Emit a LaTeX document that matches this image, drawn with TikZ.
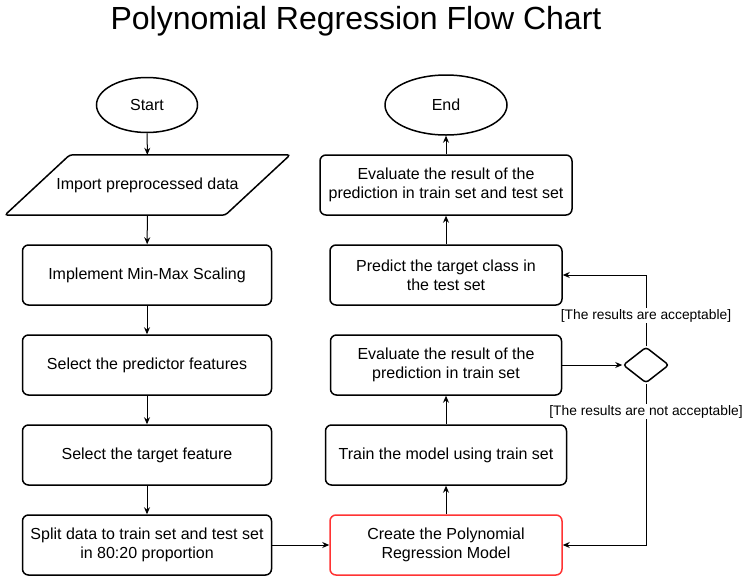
\documentclass[tikz,border=0pt]{standalone}
\usepackage{fontspec}
\setmainfont{Liberation Sans}
\usetikzlibrary{shapes.geometric,arrows.meta}
\definecolor{boxred}{HTML}{FF3333}

\begin{document}
\begin{tikzpicture}[x=1pt,y=-1pt,
    every node/.style={font=\fontsize{16}{19}\selectfont,align=center},
    block/.style={draw,line width=1.5pt,rounded corners=6pt,minimum height=60pt,inner sep=0pt},
    terminal/.style={draw,line width=1.5pt,ellipse,inner sep=0pt},
    flow/.style={line width=1pt,-{Stealth[length=7pt,width=6pt]}},
    guard/.style={fill=white,inner sep=1pt,font=\fontsize{13.8}{15}\selectfont}]
    \useasboundingbox (0,0) rectangle (744,576);
    \node (title) at (356,21) {\fontsize{32}{38}\selectfont Polynomial Regression Flow Chart};
    % left column
    \node[terminal,minimum width=101pt,minimum height=55pt] (start) at (147,105) {Start};
    \node[minimum width=220pt,minimum height=60pt,inner sep=0pt] (import) at (147.5,185) {Import preprocessed data};
    \draw[line width=1.5pt,rounded corners=3pt] ([xshift=-32.5pt]import.south west) -- ([xshift=32.5pt]import.north west)
        -- ([xshift=32.5pt]import.north east) -- ([xshift=-32.5pt]import.south east) -- cycle;
    \foreach \myy/\myname/\mytext in {275/scaling/Implement Min-Max Scaling,
        365/predictors/Select the predictor features,
        455/target/Select the target feature,
        545/split/Split data to train set and test set\\in 80:20 proportion}{
        \node[block,minimum width=249pt] (\myname) at (147,\myy) {\mytext};
    }
    % right column
    \node[block,draw=boxred,minimum width=232pt] (create) at (446,545) {Create the Polynomial\\Regression Model};
    \node[block,minimum width=241pt] (train) at (446,455) {Train the model using train set};
    \node[block,minimum width=231pt] (evaltrain) at (446,365) {Evaluate the result of the\\prediction in train set};
    \node[block,minimum width=232pt] (predict) at (446,275) {Predict the target class in\\the test set};
    \node[block,minimum width=252pt] (evalboth) at (446,185) {Evaluate the result of the\\prediction in train set and test set};
    \node[terminal,minimum width=122pt,minimum height=60pt] (end) at (446,105) {End};
    \node[draw,line width=1.5pt,diamond,minimum width=46pt,minimum height=36pt,inner sep=0pt,
        rounded corners=3pt,aspect=1.3] (check) at (646,365) {};
    % connectors
    \draw[flow] (start) -- (import);
    \draw[flow] (import) -- (scaling);
    \draw[flow] (scaling) -- (predictors);
    \draw[flow] (predictors) -- (target);
    \draw[flow] (target) -- (split);
    \draw[flow] (split) -- (create);
    \draw[flow] (create) -- (train);
    \draw[flow] (train) -- (evaltrain);
    \draw[flow] (evaltrain) -- (check);
    \draw[flow] (check.north) |- node[guard,pos=0.215] {[The results are acceptable]} (predict.east);
    \draw[flow] (check.south) |- node[guard,pos=0.086] {[The results are not acceptable]} (create.east);
    \draw[flow] (predict) -- (evalboth);
    \draw[flow] (evalboth) -- (end);
\end{tikzpicture}
\end{document}
